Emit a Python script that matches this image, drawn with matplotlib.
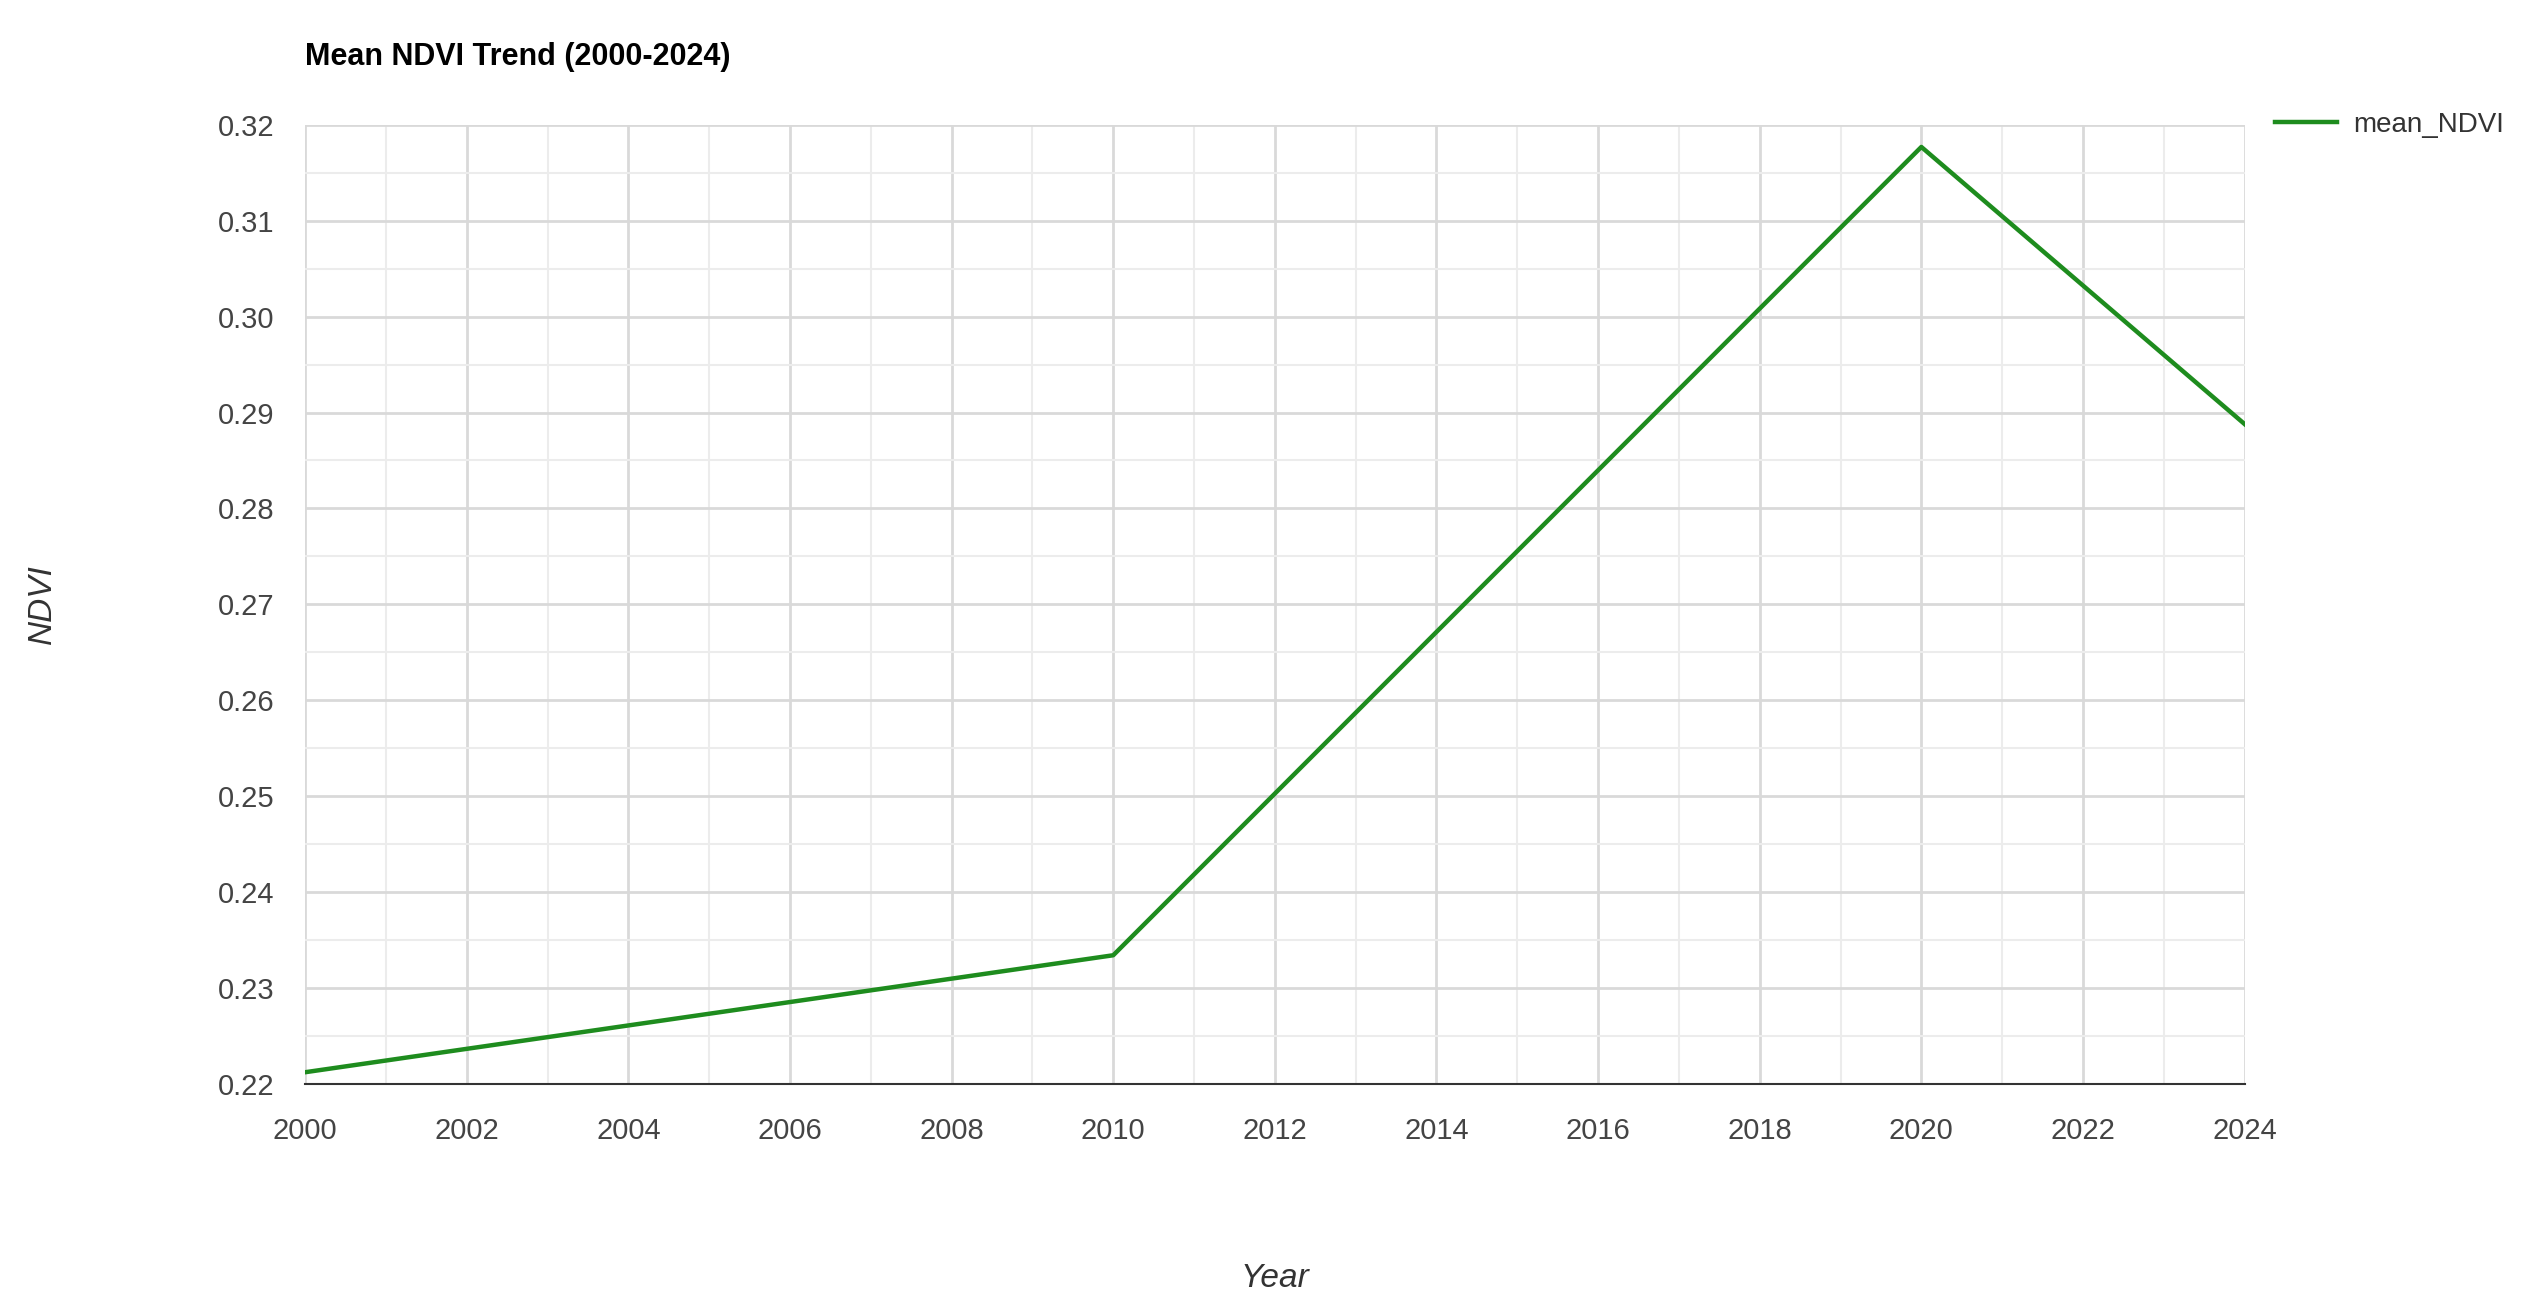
import matplotlib
matplotlib.use("Agg")
import matplotlib.pyplot as plt
from matplotlib.ticker import MultipleLocator

years = [2000, 2010, 2020, 2024]
mean_ndvi = [0.2212, 0.2334, 0.3177, 0.2888]

plt.rcParams['font.family'] = ['Liberation Sans', 'DejaVu Sans']
fig = plt.figure(figsize=(25.22, 13.01), dpi=100)
ax = fig.add_axes([0.121, 0.167, 0.769, 0.737])
ax.plot(years, mean_ndvi, color='#1e8c1e', lw=3.2, label='mean_NDVI')
ax.set_xlim(2000, 2024)
ax.set_ylim(0.22, 0.32)
ax.xaxis.set_major_locator(MultipleLocator(2))
ax.xaxis.set_minor_locator(MultipleLocator(1))
ax.yaxis.set_major_locator(MultipleLocator(0.01))
ax.yaxis.set_minor_locator(MultipleLocator(0.005))
ax.set_yticklabels([f"{v:.2f}" for v in ax.get_yticks()])
ax.grid(which='major', color='#d9d9d9', lw=2)
ax.grid(which='minor', color='#ececec', lw=1.5)
ax.set_axisbelow(True)
for s in ax.spines.values():
    s.set_visible(False)
ax.spines['bottom'].set_visible(True)
ax.spines['bottom'].set_color('#333333')
ax.spines['bottom'].set_linewidth(1.5)
ax.tick_params(which='both', length=0, labelsize=21, colors='#444444')
ax.tick_params(axis='x', pad=24)
ax.tick_params(axis='y', pad=22)
ax.set_xlabel('Year', fontsize=24, style='italic', color='#333333', labelpad=85)
ax.set_ylabel('NDVI', fontsize=24, style='italic', color='#333333', labelpad=115)
fig.text(0.121, 0.968, 'Mean NDVI Trend (2000-2024)', fontsize=22, fontweight='bold', va='top')
ax.legend(loc='upper left', bbox_to_anchor=(1.003, 1.04), frameon=False, fontsize=20,
          handlelength=2.2, handletextpad=0.6, labelcolor='#333333')
fig.savefig('out.png', dpi=100)
